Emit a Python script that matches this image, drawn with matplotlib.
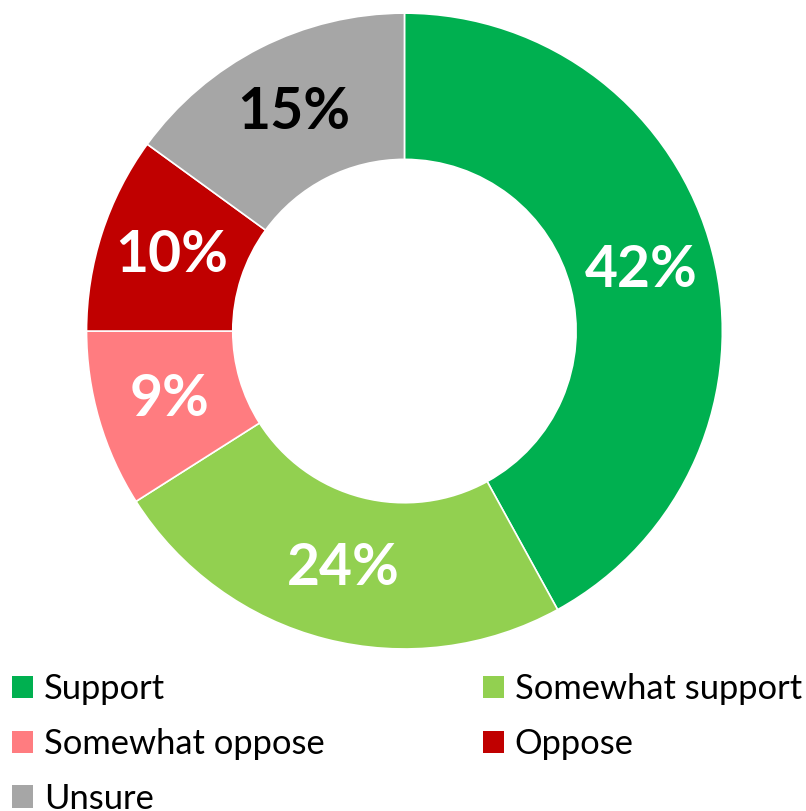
import matplotlib.pyplot as plt
from matplotlib.patches import Patch

# survey answers
labels = ["Support", "Somewhat support", "Somewhat oppose", "Oppose", "Unsure"]
values = [42, 24, 9, 10, 15]
colors = ["#00B050", "#92D050", "#FF7C80", "#C00000", "#A6A6A6"]
text_colors = ["white", "white", "white", "white", "black"]

fig = plt.figure(figsize=(8.06, 8.11), dpi=100)
ax = fig.add_axes([0.1073, 0.1998, 0.789, 0.784])

wedges, texts, autotexts = ax.pie(
    values, colors=colors, startangle=90, counterclock=False,
    radius=1, wedgeprops=dict(width=0.46, edgecolor="white", linewidth=1.2),
    autopct="%d%%", pctdistance=0.77,
    textprops=dict(fontsize=41, fontweight="bold", family="Lato"))
for t, c in zip(autotexts, text_colors):
    t.set_color(c)
ax.set_xlim(-1, 1)
ax.set_ylim(-1, 1)
ax.set_aspect("equal")

# legend, two columns, filled column by column
order = [0, 2, 4, 1, 3]
handles = [Patch(facecolor=colors[i], edgecolor="none") for i in order]
fig.legend(handles, [labels[i] for i in order], ncol=2, frameon=False,
           loc="upper left", bbox_to_anchor=(0.0149, 0.170),
           prop=dict(family="Lato", size=24.8),
           handlelength=0.62, handleheight=0.62, handletextpad=0.3,
           columnspacing=4.6, labelspacing=0.66, borderpad=0, borderaxespad=0)

fig.savefig("out.png", dpi=100)
